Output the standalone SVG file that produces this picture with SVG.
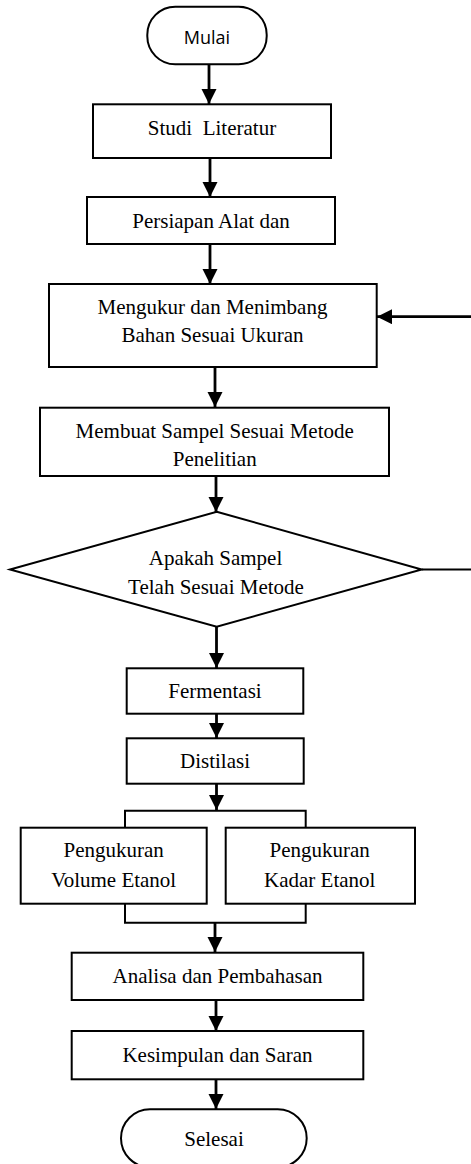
<svg xmlns="http://www.w3.org/2000/svg" width="471" height="1164" viewBox="0 0 471 1164">
<style>
.box{fill:#fff;stroke:#000;stroke-width:2}
.t{font-family:"Liberation Serif","Times New Roman",serif;font-size:21px;fill:#000;text-anchor:middle}
.s{font-family:"Open Sans","Liberation Sans",sans-serif;font-size:18px;fill:#000;text-anchor:middle}
.c{fill:none;stroke:#000;stroke-width:2.8}
.c2{fill:none;stroke:#000;stroke-width:2}
</style>
<defs>
<marker id="ah" markerUnits="userSpaceOnUse" markerWidth="16" markerHeight="16" refX="15" refY="7.5" orient="auto">
<path d="M0,0 L15,7.5 L0,15 Z" fill="#000"/>
</marker>
</defs>
<rect width="471" height="1164" fill="#fff"/>
<g id="connectors">
<line class="c" x1="209" y1="64" x2="209" y2="104" marker-end="url(#ah)"/>
<line class="c" x1="210" y1="158" x2="210" y2="197" marker-end="url(#ah)"/>
<line class="c" x1="210" y1="244" x2="210" y2="284" marker-end="url(#ah)"/>
<line class="c" x1="215" y1="367" x2="215" y2="407" marker-end="url(#ah)"/>
<line class="c" x1="216" y1="476" x2="216" y2="512" marker-end="url(#ah)"/>
<line class="c" x1="216.5" y1="627" x2="216.5" y2="668" marker-end="url(#ah)"/>
<line class="c" x1="216.5" y1="714" x2="216.5" y2="738" marker-end="url(#ah)"/>
<line class="c" x1="216.5" y1="784" x2="216.5" y2="810" marker-end="url(#ah)"/>
<polyline class="c2" points="125,828 125,810.7 305.7,810.7 305.7,828"/>
<polyline class="c2" points="125,904 125,922.7 305.7,922.7 305.7,904"/>
<line class="c" x1="215" y1="922.7" x2="215" y2="952" marker-end="url(#ah)"/>
<line class="c" x1="216" y1="1000" x2="216" y2="1031" marker-end="url(#ah)"/>
<line class="c" x1="216" y1="1079" x2="216" y2="1109" marker-end="url(#ah)"/>
<line class="c" x1="471" y1="316.7" x2="377" y2="316.7" marker-end="url(#ah)"/>
<line class="c2" x1="421.7" y1="569.5" x2="471" y2="569.5"/>
</g>
<g id="mulai">
<rect class="box" x="147.3" y="6.7" width="119.4" height="57.6" rx="28" ry="28"/>
<text class="s" x="207" y="43.5">Mulai</text>
</g>
<g id="studi">
<rect class="box" x="93" y="104.3" width="238" height="53.7"/>
<text class="t" x="212" y="135" xml:space="preserve">Studi  Literatur</text>
</g>
<g id="persiapan">
<rect class="box" x="87" y="197" width="248" height="47"/>
<text class="t" x="211" y="227.7">Persiapan Alat dan</text>
</g>
<g id="mengukur">
<rect class="box" x="49" y="284" width="327.7" height="83"/>
<text class="t" x="212.5" y="314">Mengukur dan Menimbang</text>
<text class="t" x="212.5" y="342.3">Bahan Sesuai Ukuran</text>
</g>
<g id="membuat">
<rect class="box" x="40" y="407.7" width="349" height="68.3"/>
<text class="t" x="214.7" y="437.7">Membuat Sampel Sesuai Metode</text>
<text class="t" x="214.7" y="465.7">Penelitian</text>
</g>
<g id="keputusan">
<polygon class="box" points="216.7,511.7 421.7,569.5 216.7,626.7 10,569.5"/>
<text class="t" x="215.5" y="565">Apakah Sampel</text>
<text class="t" x="216" y="594">Telah Sesuai Metode</text>
</g>
<g id="fermentasi">
<rect class="box" x="126.7" y="668.3" width="176.6" height="45.4"/>
<text class="t" x="215" y="698.3">Fermentasi</text>
</g>
<g id="distilasi">
<rect class="box" x="126.7" y="738.3" width="177" height="45.4"/>
<text class="t" x="215" y="768.3">Distilasi</text>
</g>
<g id="volume">
<rect class="box" x="20.7" y="827.7" width="186" height="76"/>
<text class="t" x="113.7" y="856.7">Pengukuran</text>
<text class="t" x="113.7" y="886.7">Volume Etanol</text>
</g>
<g id="kadar">
<rect class="box" x="225.7" y="827.7" width="189.3" height="76"/>
<text class="t" x="319.7" y="856.7">Pengukuran</text>
<text class="t" x="319.7" y="886.7">Kadar Etanol</text>
</g>
<g id="analisa">
<rect class="box" x="71.7" y="952.7" width="291.6" height="47.3"/>
<text class="t" x="217.5" y="983.3">Analisa dan Pembahasan</text>
</g>
<g id="kesimpulan">
<rect class="box" x="71.7" y="1031" width="291.6" height="48.3"/>
<text class="t" x="217.5" y="1061.7">Kesimpulan dan Saran</text>
</g>
<g id="selesai">
<rect class="box" x="121" y="1109.3" width="185.7" height="58" rx="29" ry="29"/>
<text class="t" x="214" y="1146">Selesai</text>
</g>
</svg>
